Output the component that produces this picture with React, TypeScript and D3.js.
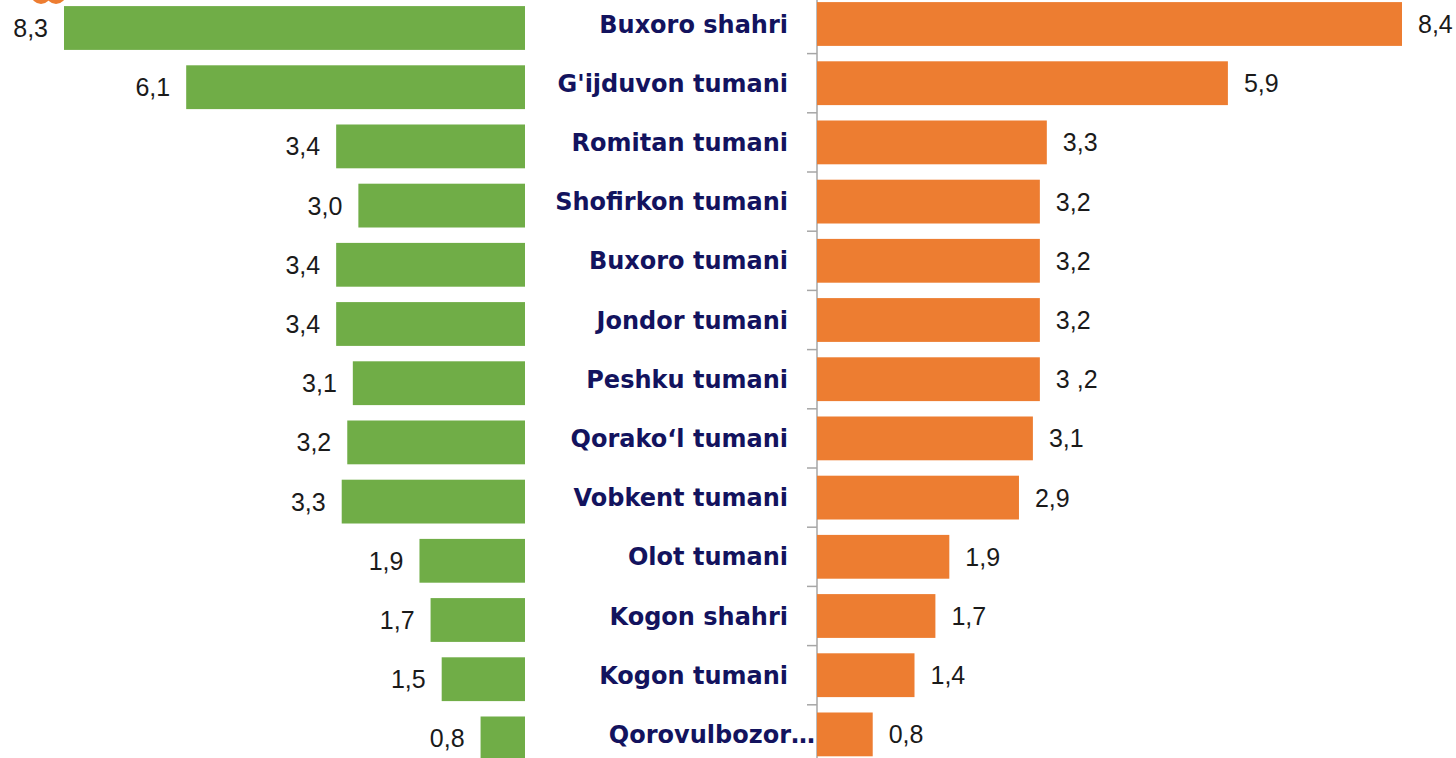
import React from "react";
import * as d3 from "d3";

const categories = [
  "Buxoro shahri",
  "G'ijduvon tumani",
  "Romitan tumani",
  "Shofirkon tumani",
  "Buxoro tumani",
  "Jondor tumani",
  "Peshku tumani",
  "Qorako\u2018l tumani",
  "Vobkent tumani",
  "Olot tumani",
  "Kogon shahri",
  "Kogon tumani",
  "Qorovulbozor\u2026",
];
const leftValues = [8.3, 6.1, 3.4, 3.0, 3.4, 3.4, 3.1, 3.2, 3.3, 1.9, 1.7, 1.5, 0.8];
const rightValues = [8.4, 5.9, 3.3, 3.2, 3.2, 3.2, 3.2, 3.1, 2.9, 1.9, 1.7, 1.4, 0.8];
const leftLabels = ["8,3", "6,1", "3,4", "3,0", "3,4", "3,4", "3,1", "3,2", "3,3", "1,9", "1,7", "1,5", "0,8"];
const rightLabels = ["8,4", "5,9", "3,3", "3,2", "3,2", "3,2", "3 ,2", "3,1", "2,9", "1,9", "1,7", "1,4", "0,8"];

const W = 1456;
const H = 758;
const GREEN = "#70ad47";
const ORANGE = "#ed7d31";
const NAVY = "#13135e";

export default function App() {
  const y = d3
    .scaleBand<string>()
    .domain(categories)
    .range([-5.6, -5.6 + 59.2 * categories.length])
    .paddingInner(0.26)
    .paddingOuter(0.13);

  const xLeft = d3.scaleLinear().domain([0, 8.3]).range([525, 64]);
  const xRight = d3.scaleLinear().domain([0, 8.4]).range([817, 1402]);
  const step = y.step();
  const top = y.range()[0];

  return (
    <svg
      width={W}
      height={H}
      style={{ position: "absolute", left: 0, top: 0, background: "#fff" }}
    >
      {/* cut-off logo at top left */}
      <circle cx={41} cy={-6} r={10} fill={ORANGE} />
      <circle cx={56} cy={-6} r={10} fill={ORANGE} />

      {/* left series, sits a few px lower */}
      <g transform="translate(0,4)">
        {leftValues.map((v, i) => (
          <g key={"l" + i}>
            <rect
              x={xLeft(v)}
              y={y(categories[i])}
              width={xLeft(0) - xLeft(v)}
              height={y.bandwidth()}
              fill={GREEN}
            />
            <text
              x={xLeft(v) - 16}
              y={y(categories[i])! + y.bandwidth() / 2}
              dy="0.36em"
              textAnchor="end"
              fontFamily="'Liberation Sans', Arial, sans-serif"
              fontSize={25}
              fill="#1a1a1a"
            >
              {leftLabels[i]}
            </text>
          </g>
        ))}
      </g>

      {/* right axis */}
      <line x1={817} x2={817} y1={0} y2={H} stroke="#a6a6a6" strokeWidth={1.5} />
      {categories.map((c, i) => (
        <line
          key={"t" + i}
          x1={807}
          x2={817}
          y1={top + step * (i + 1)}
          y2={top + step * (i + 1)}
          stroke="#a6a6a6"
          strokeWidth={1.5}
        />
      ))}

      {rightValues.map((v, i) => (
        <g key={"r" + i}>
          <rect
            x={xRight(0)}
            y={y(categories[i])}
            width={xRight(v) - xRight(0)}
            height={y.bandwidth()}
            fill={ORANGE}
          />
          <text
            x={xRight(v) + 16}
            y={y(categories[i])! + y.bandwidth() / 2}
            dy="0.36em"
            fontFamily="'Liberation Sans', Arial, sans-serif"
            fontSize={25}
            fill="#1a1a1a"
          >
            {rightLabels[i]}
          </text>
        </g>
      ))}

      {categories.map((c, i) => (
        <text
          key={"c" + i}
          x={i === categories.length - 1 ? 815 : 788}
          y={y(c)! + y.bandwidth() / 2}
          dy="0.36em"
          textAnchor="end"
          fontFamily="'DejaVu Sans', sans-serif"
          fontWeight="bold"
          fontSize={24}
          fill={NAVY}
        >
          {c}
        </text>
      ))}
    </svg>
  );
}
